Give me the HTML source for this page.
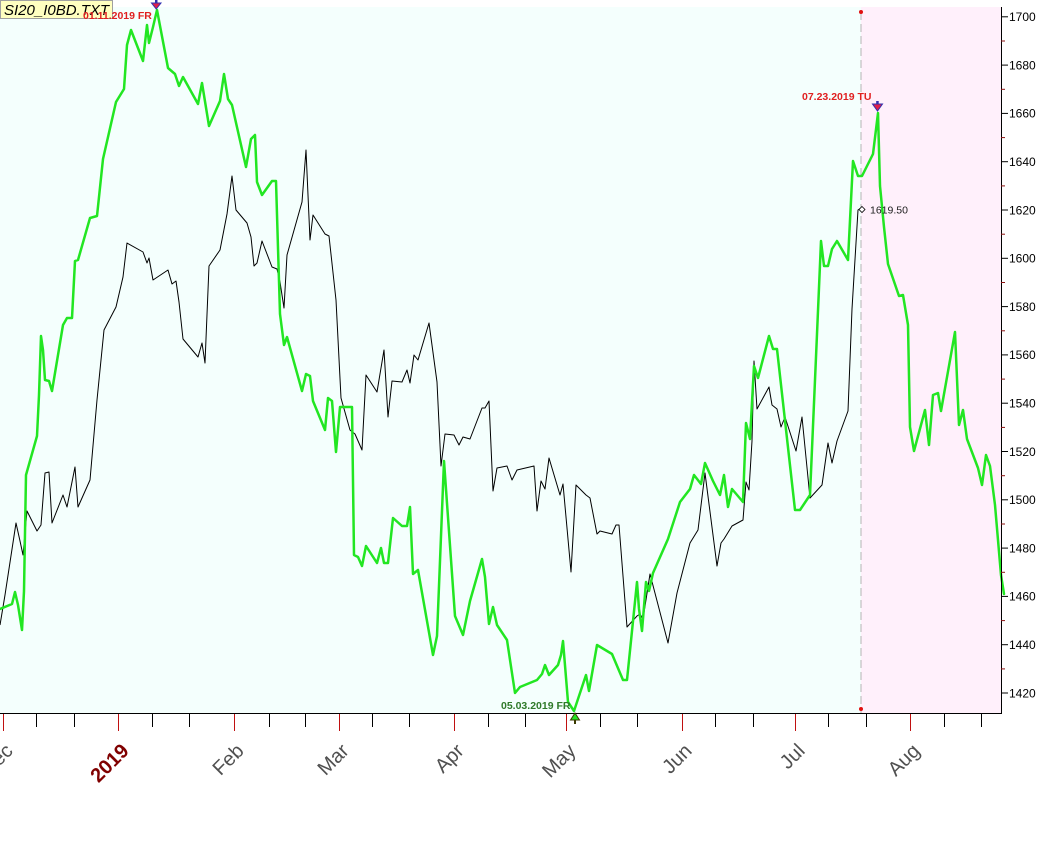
<!DOCTYPE html>
<html>
<head>
<meta charset="utf-8">
<style>
html,body{margin:0;padding:0;background:#ffffff;}
svg{display:block;}
text{font-family:"Liberation Sans",Arial,sans-serif;}
</style>
</head>
<body>
<svg width="1063" height="849" viewBox="0 0 1063 849" xmlns="http://www.w3.org/2000/svg">
  <rect x="0" y="0" width="1063" height="849" fill="#ffffff"/>
  <!-- plot backgrounds -->
  <rect x="0" y="7" width="861" height="706" fill="#f4fffd"/>
  <rect x="861" y="7" width="140" height="706" fill="#fff0fb"/>
  <!-- dashed vertical line -->
  <line x1="861" y1="12" x2="861" y2="713" stroke="#b4b4b4" stroke-width="1" stroke-dasharray="8,4"/>
  <circle cx="861" cy="12" r="2" fill="#e01010"/>
  <circle cx="861" cy="709" r="2" fill="#e01010"/>

  <!-- black series -->
  <polyline fill="none" stroke="#000000" stroke-width="1" stroke-linejoin="round" points="0,625 5,595 16,523 20,541 23,555 27,511 37,531 41,525 45,473 49,472 52,523 63,495 67,507 75,467 78,507 90,480 97,400 104,330 116,307 123,277 127,243 143,252 147,263 149,258 153,280 168,270 172,284 176,281 179,302 183,339 198,357 202,343 205,363 209,266 220,250 227,214 232,176 236,210 247,223 251,237 254,266 257,263 262,241 272,267 277,269 280,282 284,308 287,255 302,202 306,150 310,240 313,215 325,234 329,236 336,300 341,398 350,430 355,434 362,450 366,375 377,392 384,350 388,417 392,381 402,382 407,370 410,383 414,355 418,360 429,323 437,382 441,466 445,434 454,435 459,445 463,437 470,439 482,408 485,408 489,401 493,491 497,468 507,466 512,480 517,470 534,466 537,511 541,481 545,489 549,458 560,495 563,484 571,572 576,485 586,495 590,498 597,534 600,531 612,534 616,525 619,525 627,627 637,616 640,614 643,619 650,574 668,643 677,593 690,543 698,530 705,473 717,566 721,543 724,539 732,526 743,520 746,482 749,490 752,441 754,361 757,409 769,387 772,405 777,409 781,427 785,417 796,451 802,417 810,498 822,485 828,443 832,463 837,441 848,411 852,309 858,210 861,208"/>

  <!-- green series -->
  <polyline fill="none" stroke="#22e622" stroke-width="2.5" stroke-linejoin="round" stroke-linecap="round" points="0,609 12,604 15,592 18,605 22,630 24,591 26,475 37,436 39,395 41,336 43,350 45,380 49,381 52,391 63,325 67,318 72,318 75,261 78,260 90,218 97,216 103,159 116,102 124,89 127,45 131,30 143,61 147,25 149,43 153,27 157,10 168,68 175,74 179,86 183,77 198,104 202,83 209,126 220,101 224,74 228,99 232,105 246,167 251,139 255,135 257,182 262,195 272,181 276,181 278,248 280,314 284,345 287,337 302,391 306,374 310,376 313,401 325,430 328,398 332,401 336,452 340,407 352,407 354,555 358,557 362,566 366,546 377,563 381,548 384,563 388,563 393,518 402,526 407,526 410,507 413,574 418,570 433,655 437,636 444,461 455,616 463,635 470,601 482,559 485,577 489,624 493,607 497,625 507,640 515,693 520,687 537,680 542,674 545,665 549,675 558,665 561,655 563,641 568,702 574,711 586,675 589,691 597,645 612,654 623,680 627,680 637,582 639,609 642,631 646,582 649,591 653,573 668,539 680,502 690,489 694,475 701,484 705,463 713,481 720,495 724,475 728,507 732,489 743,502 746,423 750,439 754,366 758,378 769,336 773,349 777,349 795,510 800,510 810,495 817,334 821,241 824,266 828,266 832,249 837,241 848,260 853,161 858,176 862,176 873,154 878,113 880,186 884,227 888,264 899,296 903,295 908,325 910,427 914,451 925,410 929,445 933,395 938,393 941,411 955,332 959,425 963,410 967,439 978,468 982,485 986,455 990,466 995,505 1001,575 1004,594"/>

  <!-- axes -->
  <line x1="0" y1="713.5" x2="1001.5" y2="713.5" stroke="#000" stroke-width="1"/>
  <line x1="1001.5" y1="7" x2="1001.5" y2="714" stroke="#000" stroke-width="1"/>

  <!-- y ticks major -->
  <g stroke="#000" stroke-width="1">
    <line x1="1001" y1="16.8" x2="1008" y2="16.8"/>
    <line x1="1001" y1="65.1" x2="1008" y2="65.1"/>
    <line x1="1001" y1="113.4" x2="1008" y2="113.4"/>
    <line x1="1001" y1="161.7" x2="1008" y2="161.7"/>
    <line x1="1001" y1="210.0" x2="1008" y2="210.0"/>
    <line x1="1001" y1="258.3" x2="1008" y2="258.3"/>
    <line x1="1001" y1="306.6" x2="1008" y2="306.6"/>
    <line x1="1001" y1="354.9" x2="1008" y2="354.9"/>
    <line x1="1001" y1="403.2" x2="1008" y2="403.2"/>
    <line x1="1001" y1="451.5" x2="1008" y2="451.5"/>
    <line x1="1001" y1="499.8" x2="1008" y2="499.8"/>
    <line x1="1001" y1="548.1" x2="1008" y2="548.1"/>
    <line x1="1001" y1="596.4" x2="1008" y2="596.4"/>
    <line x1="1001" y1="644.7" x2="1008" y2="644.7"/>
    <line x1="1001" y1="693.0" x2="1008" y2="693.0"/>
  </g>
  <!-- y ticks minor -->
  <g stroke="#8b1010" stroke-width="1">
    <line x1="1001" y1="41" x2="1005" y2="41"/>
    <line x1="1001" y1="89.3" x2="1005" y2="89.3"/>
    <line x1="1001" y1="137.6" x2="1005" y2="137.6"/>
    <line x1="1001" y1="185.9" x2="1005" y2="185.9"/>
    <line x1="1001" y1="234.2" x2="1005" y2="234.2"/>
    <line x1="1001" y1="282.5" x2="1005" y2="282.5"/>
    <line x1="1001" y1="330.8" x2="1005" y2="330.8"/>
    <line x1="1001" y1="379.1" x2="1005" y2="379.1"/>
    <line x1="1001" y1="427.4" x2="1005" y2="427.4"/>
    <line x1="1001" y1="475.7" x2="1005" y2="475.7"/>
    <line x1="1001" y1="524" x2="1005" y2="524"/>
    <line x1="1001" y1="572.3" x2="1005" y2="572.3"/>
    <line x1="1001" y1="620.6" x2="1005" y2="620.6"/>
    <line x1="1001" y1="668.9" x2="1005" y2="668.9"/>
  </g>
  <!-- y labels -->
  <g font-size="12" fill="#000">
    <text x="1009" y="21.1">1700</text>
    <text x="1009" y="69.4">1680</text>
    <text x="1009" y="117.7">1660</text>
    <text x="1009" y="166">1640</text>
    <text x="1009" y="214.3">1620</text>
    <text x="1009" y="262.6">1600</text>
    <text x="1009" y="310.9">1580</text>
    <text x="1009" y="359.2">1560</text>
    <text x="1009" y="407.5">1540</text>
    <text x="1009" y="455.8">1520</text>
    <text x="1009" y="504.1">1500</text>
    <text x="1009" y="552.4">1480</text>
    <text x="1009" y="600.7">1460</text>
    <text x="1009" y="649">1440</text>
    <text x="1009" y="697.3">1420</text>
  </g>

  <!-- x ticks: month (red) -->
  <g stroke="#c01010" stroke-width="1">
    <line x1="3.5" y1="714" x2="3.5" y2="731"/>
    <line x1="118.5" y1="714" x2="118.5" y2="731"/>
    <line x1="234.5" y1="714" x2="234.5" y2="731"/>
    <line x1="339.5" y1="714" x2="339.5" y2="731"/>
    <line x1="454.5" y1="714" x2="454.5" y2="731"/>
    <line x1="566.5" y1="714" x2="566.5" y2="731"/>
    <line x1="682.5" y1="714" x2="682.5" y2="731"/>
    <line x1="795.5" y1="714" x2="795.5" y2="731"/>
    <line x1="910.5" y1="714" x2="910.5" y2="731"/>
  </g>
  <!-- x ticks: weekly (black) -->
  <g stroke="#000" stroke-width="1">
    <line x1="36.5" y1="714" x2="36.5" y2="727"/>
    <line x1="74.5" y1="714" x2="74.5" y2="727"/>
    <line x1="152.5" y1="714" x2="152.5" y2="727"/>
    <line x1="189.5" y1="714" x2="189.5" y2="727"/>
    <line x1="269.5" y1="714" x2="269.5" y2="727"/>
    <line x1="305.5" y1="714" x2="305.5" y2="727"/>
    <line x1="372.5" y1="714" x2="372.5" y2="727"/>
    <line x1="409.5" y1="714" x2="409.5" y2="727"/>
    <line x1="488.5" y1="714" x2="488.5" y2="727"/>
    <line x1="525.5" y1="714" x2="525.5" y2="727"/>
    <line x1="600.5" y1="714" x2="600.5" y2="727"/>
    <line x1="637.5" y1="714" x2="637.5" y2="727"/>
    <line x1="715.5" y1="714" x2="715.5" y2="727"/>
    <line x1="753.5" y1="714" x2="753.5" y2="727"/>
    <line x1="828.5" y1="714" x2="828.5" y2="727"/>
    <line x1="866.5" y1="714" x2="866.5" y2="727"/>
    <line x1="944.5" y1="714" x2="944.5" y2="727"/>
    <line x1="981.5" y1="714" x2="981.5" y2="727"/>
  </g>

  <!-- x labels -->
  <g font-size="20" fill="#505050" text-anchor="end">
    <text x="14" y="752" transform="rotate(-45 14 752)">Dec</text>
    <text x="245" y="752" transform="rotate(-45 245 752)">Feb</text>
    <text x="350" y="752" transform="rotate(-45 350 752)">Mar</text>
    <text x="465" y="752" transform="rotate(-45 465 752)">Apr</text>
    <text x="577" y="752" transform="rotate(-45 577 752)">May</text>
    <text x="693" y="752" transform="rotate(-45 693 752)">Jun</text>
    <text x="806" y="752" transform="rotate(-45 806 752)">Jul</text>
    <text x="921" y="752" transform="rotate(-45 921 752)">Aug</text>
  </g>
  <text x="130" y="752" transform="rotate(-45 130 752)" font-size="20" font-weight="bold" fill="#800000" text-anchor="end">2019</text>

  <!-- title box -->
  <rect x="0.5" y="0.5" width="112" height="18" fill="#ffffc0" stroke="#a0a0a0" stroke-width="1"/>
  <text x="4" y="15" font-size="15" font-style="italic" fill="#000">SI20_I0BD.TXT</text>

  <!-- annotations -->
  <text x="83" y="19" font-size="10.5" font-weight="bold" fill="#e02020">01.11.2019 FR</text>
  <g>
    <rect x="155" y="0" width="2.5" height="4" fill="#3030b0"/>
    <polygon points="151.5,3 161,3 156.2,9" fill="#e0204a" stroke="#3030b0" stroke-width="1"/>
  </g>

  <text x="802" y="100" font-size="10.5" font-weight="bold" fill="#e02020">07.23.2019 TU</text>
  <g>
    <rect x="876.2" y="101" width="2.5" height="4" fill="#3030b0"/>
    <polygon points="872.5,104 882.5,104 877.5,111" fill="#e0204a" stroke="#3030b0" stroke-width="1"/>
  </g>

  <text x="501" y="709" font-size="10.5" font-weight="bold" fill="#2f7a2a">05.03.2019 FR</text>
  <g>
    <polygon points="575,713 570.5,720 579.5,720" fill="#22e622" stroke="#3a3a00" stroke-width="1"/>
    <rect x="574" y="720" width="2" height="4" fill="#3a3a00"/>
  </g>

  <!-- last value marker -->
  <polygon points="862,206.5 865,209.5 862,212.5 859,209.5" fill="#ffffff" stroke="#000" stroke-width="0.8"/>
  <text x="870" y="213.5" font-size="10.5" fill="#202020">1619.50</text>
</svg>
</body>
</html>
